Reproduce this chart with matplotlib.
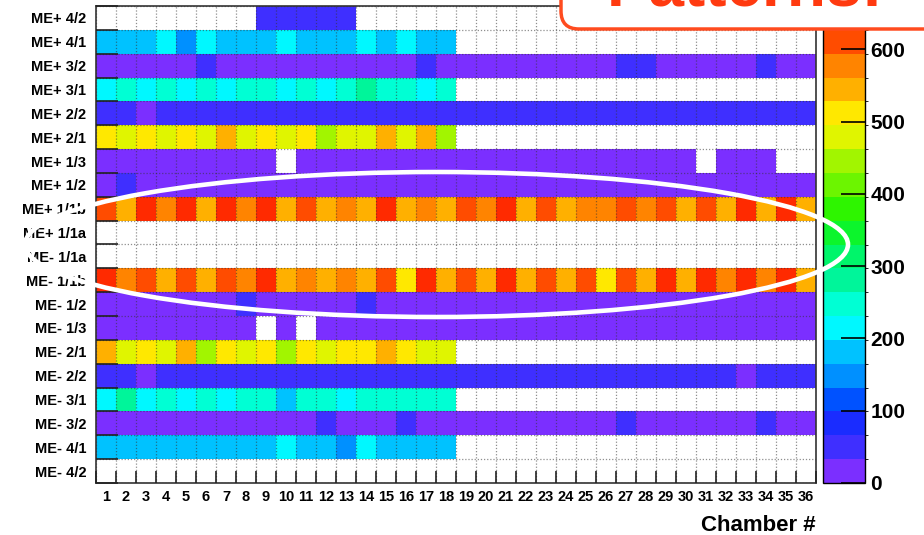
import numpy as np
import matplotlib

matplotlib.use("Agg")
import matplotlib.pyplot as plt  # noqa: E402
from matplotlib.colors import ListedColormap, BoundaryNorm  # noqa: E402
from matplotlib.patches import Ellipse, FancyBboxPatch  # noqa: E402

plt.rcParams["font.family"] = ["Liberation Sans", "DejaVu Sans"]
plt.rcParams["font.weight"] = "bold"

# Chamber occupancy per ring (0 = empty bin, drawn white)
chambers = list(range(1, 37))
ring_labels = [
    "ME+ 4/2", "ME+ 4/1", "ME+ 3/2", "ME+ 3/1", "ME+ 2/2", "ME+ 2/1",
    "ME+ 1/3", "ME+ 1/2", "ME+ 1/1b", "ME+ 1/1a", "ME- 1/1a", "ME- 1/1b",
    "ME- 1/2", "ME- 1/3", "ME- 2/1", "ME- 2/2", "ME- 3/1", "ME- 3/2",
    "ME- 4/1", "ME- 4/2",
]

me_p42 = [0, 0, 0, 0, 0, 0, 0, 0, 50, 50, 50, 50, 50, 0, 0, 0, 0, 0,
          0, 0, 0, 0, 0, 0, 0, 0, 0, 0, 0, 0, 0, 0, 0, 0, 0, 0]
me_p41 = [185, 185, 185, 215, 150, 215, 185, 185, 185, 215, 185, 185, 185, 215, 185, 215, 185, 185,
          0, 0, 0, 0, 0, 0, 0, 0, 0, 0, 0, 0, 0, 0, 0, 0, 0, 0]
me_p32 = [20, 20, 20, 20, 20, 45, 20, 20, 20, 20, 20, 20, 20, 20, 20, 20, 45, 20,
          20, 20, 20, 20, 20, 20, 20, 20, 45, 45, 20, 20, 20, 20, 20, 45, 20, 20]
me_p31 = [215, 248, 215, 248, 215, 248, 215, 248, 248, 215, 248, 215, 248, 280, 248, 248, 215, 248,
          0, 0, 0, 0, 0, 0, 0, 0, 0, 0, 0, 0, 0, 0, 0, 0, 0, 0]
me_p22 = [50, 50, 25, 50, 50, 50, 50, 50, 50, 50, 50, 50, 50, 50, 50, 50, 50, 50,
          50, 50, 50, 50, 50, 50, 50, 50, 50, 50, 50, 50, 50, 50, 50, 50, 50, 50]
me_p21 = [512, 478, 512, 478, 512, 478, 545, 478, 512, 478, 512, 445, 478, 478, 545, 478, 545, 445,
          0, 0, 0, 0, 0, 0, 0, 0, 0, 0, 0, 0, 0, 0, 0, 0, 0, 0]
me_p13 = [20, 20, 20, 20, 20, 20, 20, 20, 20, 0, 20, 20, 20, 20, 20, 20, 20, 20,
          20, 20, 20, 20, 20, 20, 20, 20, 20, 20, 20, 20, 0, 20, 20, 20, 0, 0]
me_p12 = [20, 45, 20, 20, 20, 20, 20, 20, 20, 20, 20, 20, 20, 20, 20, 20, 20, 20,
          20, 20, 20, 20, 20, 20, 20, 20, 20, 20, 20, 20, 20, 20, 20, 20, 20, 20]
me_p11b = [610, 545, 643, 578, 643, 545, 643, 578, 643, 545, 610, 545, 578, 545, 643, 545, 578, 545,
           610, 578, 643, 545, 610, 545, 578, 578, 610, 578, 610, 545, 610, 545, 643, 545, 643, 545]
me_p11a = [0] * 36
me_m11a = [0] * 36
me_m11b = [643, 578, 610, 545, 610, 545, 610, 578, 643, 545, 578, 545, 578, 545, 610, 512, 643, 545,
           610, 545, 643, 545, 610, 545, 610, 512, 610, 545, 643, 545, 643, 578, 643, 578, 643, 545]
me_m12 = [20, 20, 20, 20, 20, 20, 20, 45, 20, 20, 20, 20, 20, 45, 20, 20, 20, 20,
          20, 20, 20, 20, 20, 20, 20, 20, 20, 20, 20, 20, 20, 20, 20, 20, 20, 20]
me_m13 = [20, 20, 20, 20, 20, 20, 20, 20, 0, 20, 0, 20, 20, 20, 20, 20, 20, 20,
          20, 20, 20, 20, 20, 20, 20, 20, 20, 20, 20, 20, 20, 20, 20, 20, 20, 20]
me_m21 = [545, 478, 512, 478, 545, 445, 512, 478, 512, 445, 512, 478, 512, 512, 545, 512, 478, 478,
          0, 0, 0, 0, 0, 0, 0, 0, 0, 0, 0, 0, 0, 0, 0, 0, 0, 0]
me_m22 = [50, 50, 25, 50, 50, 50, 50, 50, 50, 50, 50, 50, 50, 50, 50, 50, 50, 50,
          50, 50, 50, 50, 50, 50, 50, 50, 50, 50, 50, 50, 50, 50, 25, 50, 50, 50]
me_m31 = [215, 280, 215, 248, 215, 248, 215, 248, 248, 185, 248, 248, 215, 248, 248, 248, 248, 248,
          0, 0, 0, 0, 0, 0, 0, 0, 0, 0, 0, 0, 0, 0, 0, 0, 0, 0]
me_m32 = [20, 20, 20, 20, 20, 20, 20, 20, 20, 20, 20, 45, 20, 20, 20, 45, 20, 20,
          20, 20, 20, 20, 20, 20, 20, 20, 45, 20, 20, 20, 20, 20, 20, 45, 20, 20]
me_m41 = [185, 185, 185, 185, 185, 185, 185, 185, 185, 215, 185, 185, 150, 215, 185, 185, 185, 185,
          0, 0, 0, 0, 0, 0, 0, 0, 0, 0, 0, 0, 0, 0, 0, 0, 0, 0]
me_m42 = [0] * 36

rows = [me_p42, me_p41, me_p32, me_p31, me_p22, me_p21, me_p13, me_p12, me_p11b, me_p11a,
        me_m11a, me_m11b, me_m12, me_m13, me_m21, me_m22, me_m31, me_m32, me_m41, me_m42]
cbar_ticks = [0, 100, 200, 300, 400, 500, 600]

# ROOT-like 20 level rainbow palette
palette = [
    "#7B2FFF", "#3F2FFF", "#1A2CFF", "#0052FF", "#0090FF",
    "#00C2FF", "#00F8FF", "#00FFD4", "#00F59A", "#00F56A",
    "#0CF52C", "#2EF500", "#6CF500", "#A2F500", "#E0F500",
    "#FFE800", "#FFB000", "#FF8400", "#FF4C00", "#FF2A00",
]
zmax = 660

data = np.ma.masked_equal(np.array(rows, dtype=float), 0)
cmap = ListedColormap(palette)
cmap.set_bad("white")
norm = BoundaryNorm(np.linspace(0, zmax, len(palette) + 1), cmap.N)

W, H = 924, 535
fig = plt.figure(figsize=(W / 100, H / 100), dpi=100)
ax = fig.add_axes([96 / W, 1 - 483 / H, 720 / W, 477 / H])
cax = fig.add_axes([823 / W, 1 - 483 / H, 42 / W, 477 / H])

x_edges = np.arange(0.5, len(chambers) + 1)
y_edges = np.arange(-0.5, len(ring_labels))
mesh = ax.pcolormesh(x_edges, y_edges, data, cmap=cmap, norm=norm)
ax.set_xlim(x_edges[0], x_edges[-1])
ax.set_ylim(y_edges[-1], y_edges[0])

ax.set_xticks(chambers)
ax.set_xticklabels([str(c) for c in chambers], fontsize=10.5, fontweight="bold")
ax.set_yticks(range(len(ring_labels)))
ax.set_yticklabels(ring_labels, fontsize=10.5, fontweight="bold")
ax.set_xticks(x_edges, minor=True)
ax.set_yticks(y_edges, minor=True)
ax.tick_params(which="major", length=0)
ax.tick_params(axis="x", which="major", pad=5)
ax.tick_params(axis="y", which="major", pad=7)
ax.tick_params(axis="x", which="minor", direction="in", length=9, width=1.2, color="#222")
ax.tick_params(axis="y", which="minor", direction="in", length=16, width=1.2, color="#222")
ax.set_axisbelow(False)
ax.grid(which="minor", color="#333333", alpha=0.55, linestyle=(0, (1, 1.5)), linewidth=0.9)
ax.set_xlabel("Chamber #", loc="right", fontsize=16, fontweight="bold", labelpad=8)
for s in ax.spines.values():
    s.set_linewidth(1.2)
    s.set_color("#333333")

cb = fig.colorbar(mesh, cax=cax, ticks=cbar_ticks)
cb.outline.set_linewidth(1.0)
cax.tick_params(direction="in", length=17, width=1.2, pad=4, labelsize=15)
for t in cax.get_yticklabels():
    t.set_fontweight("bold")

# annotation layer in pixel coordinates
over = fig.add_axes([0, 0, 1, 1])
over.set_xlim(0, W)
over.set_ylim(H, 0)
over.axis("off")
over.add_patch(Ellipse((436.5, 244.5), 823, 145, fill=False, ec="white", lw=3.3))
over.add_patch(FancyBboxPatch((561, -80), 420, 109,
                              boxstyle="round,pad=0,rounding_size=18",
                              fc="white", ec="#FF4B1F", lw=2.5))
over.text(745, 6, "Patterns!", ha="center", va="baseline", fontsize=46,
          fontweight="bold", color="#FF3A10")

fig.savefig("out.png", dpi=100)
